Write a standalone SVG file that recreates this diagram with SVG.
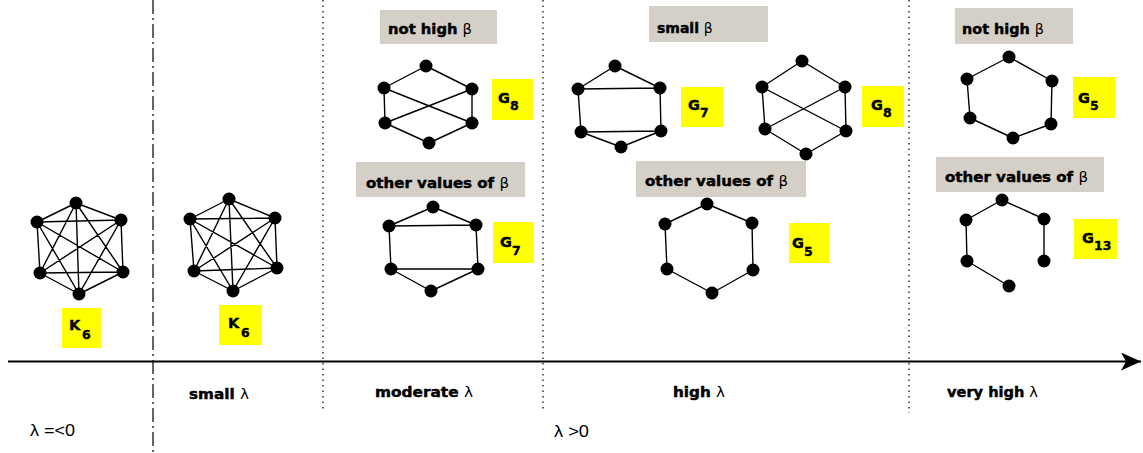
<svg xmlns="http://www.w3.org/2000/svg" width="1143" height="453" viewBox="0 0 1143 453">
<style>
.e{fill:none;stroke:#000;stroke-width:1.4;stroke-linecap:round}
.n{fill:#000}
.gb{fill:#d4d0c8}
.yb{fill:#ffff00}
.t{font-family:"DejaVu Sans",sans-serif;font-weight:bold;font-size:14px;fill:#000;stroke:#000;stroke-width:0.45}
.g{font-family:"DejaVu Sans",sans-serif;font-weight:normal;stroke:none}
.lb{font-family:"DejaVu Sans",sans-serif;font-weight:bold;font-size:14.5px;fill:#000;stroke:#000;stroke-width:0.4}
.sb{font-size:12.5px}
.r{font-family:"Liberation Sans",sans-serif;font-size:16.5px;fill:#000}
.sep{fill:none;stroke:#000;stroke-width:1.2}
</style>
<defs>
<marker id="arr" markerUnits="userSpaceOnUse" markerWidth="22" markerHeight="20" refX="20" refY="9" orient="auto">
<path d="M0,0 L20,9 L0,18 L5,9 Z" fill="#000"/>
</marker>
</defs>
<rect width="1143" height="453" fill="#fff"/>

<g id="axis">
<line x1="8" y1="361.5" x2="1141" y2="361.5" stroke="#000" stroke-width="2" marker-end="url(#arr)"/>
<line class="sep" x1="153" y1="0" x2="153" y2="453" stroke-dasharray="14 4 2 4"/>
<line class="sep" x1="323" y1="0" x2="323" y2="410" stroke-dasharray="1.5 4"/>
<line class="sep" x1="543" y1="0" x2="543" y2="410" stroke-dasharray="1.5 4"/>
<line class="sep" x1="909" y1="0" x2="909" y2="413" stroke-dasharray="1.5 4"/>
</g>

<g id="connectors">
<path class="e" d="M76,203L37,222M76,203L121,220M76,203L40,273M76,203L123,272M76,203L79,294M37,222L121,220M37,222L40,273M37,222L123,272M37,222L79,294M121,220L40,273M121,220L123,272M121,220L79,294M40,273L123,272M40,273L79,294M123,272L79,294"/>
<path class="e" d="M229,199L190,219M229,199L275,218M229,199L194,271M229,199L277,268M229,199L233,291M190,219L275,218M190,219L194,271M190,219L277,268M190,219L233,291M275,218L194,271M275,218L277,268M275,218L233,291M194,271L277,268M194,271L233,291M277,268L233,291"/>
<path class="e" d="M426,66L384,88M426,66L472,89M384,88L385,123M472,89L472,123M385,123L429,143M472,123L429,143M384,88L472,123M472,89L385,123"/>
<path class="e" d="M433,207L389,226M433,207L476,225M389,226L476,225M389,226L391,269M476,225L478,269M391,269L478,269M391,269L431,291M478,269L431,291"/>
<path class="e" d="M615,66L578,89M615,66L660,88M578,89L660,88M578,89L581,132M660,88L661,131M581,132L661,131M581,132L621,147M661,131L621,147"/>
<path class="e" d="M802,61L762,87M802,61L845,87M762,87L765,129M845,87L846,131M765,129L806,154M846,131L806,154M762,87L846,131M845,87L765,129"/>
<path class="e" d="M707,204L665,224M707,204L752,223M665,224L667,269M752,223L753,270M667,269L712,293M753,270L712,293"/>
<path class="e" d="M1009,57L967,79M1009,57L1052,81M967,79L970,118M1052,81L1051,124M970,118L1013,138M1051,124L1013,138"/>
<path class="e" d="M1002,200L966,220M1002,200L1044,219M966,220L967,261M1044,219L1044,261M967,261L1009,286"/>
</g>

<g id="k6-a">
<circle class="n" cx="76" cy="203" r="6.5"/><circle class="n" cx="37" cy="222" r="6.5"/><circle class="n" cx="121" cy="220" r="6.5"/><circle class="n" cx="40" cy="273" r="6.5"/><circle class="n" cx="123" cy="272" r="6.5"/><circle class="n" cx="79" cy="294" r="6.5"/>
</g>
<g id="k6-b">
<circle class="n" cx="229" cy="199" r="6.5"/><circle class="n" cx="190" cy="219" r="6.5"/><circle class="n" cx="275" cy="218" r="6.5"/><circle class="n" cx="194" cy="271" r="6.5"/><circle class="n" cx="277" cy="268" r="6.5"/><circle class="n" cx="233" cy="291" r="6.5"/>
</g>
<g id="g8-moderate">
<circle class="n" cx="426" cy="66" r="6.5"/><circle class="n" cx="384" cy="88" r="6.5"/><circle class="n" cx="472" cy="89" r="6.5"/><circle class="n" cx="385" cy="123" r="6.5"/><circle class="n" cx="472" cy="123" r="6.5"/><circle class="n" cx="429" cy="143" r="6.5"/>
</g>
<g id="g7-moderate">
<circle class="n" cx="433" cy="207" r="6.5"/><circle class="n" cx="389" cy="226" r="6.5"/><circle class="n" cx="476" cy="225" r="6.5"/><circle class="n" cx="391" cy="269" r="6.5"/><circle class="n" cx="478" cy="269" r="6.5"/><circle class="n" cx="431" cy="291" r="6.5"/>
</g>
<g id="g7-high">
<circle class="n" cx="615" cy="66" r="6.5"/><circle class="n" cx="578" cy="89" r="6.5"/><circle class="n" cx="660" cy="88" r="6.5"/><circle class="n" cx="581" cy="132" r="6.5"/><circle class="n" cx="661" cy="131" r="6.5"/><circle class="n" cx="621" cy="147" r="6.5"/>
</g>
<g id="g8-high">
<circle class="n" cx="802" cy="61" r="6.5"/><circle class="n" cx="762" cy="87" r="6.5"/><circle class="n" cx="845" cy="87" r="6.5"/><circle class="n" cx="765" cy="129" r="6.5"/><circle class="n" cx="846" cy="131" r="6.5"/><circle class="n" cx="806" cy="154" r="6.5"/>
</g>
<g id="g5-high">
<circle class="n" cx="707" cy="204" r="6.5"/><circle class="n" cx="665" cy="224" r="6.5"/><circle class="n" cx="752" cy="223" r="6.5"/><circle class="n" cx="667" cy="269" r="6.5"/><circle class="n" cx="753" cy="270" r="6.5"/><circle class="n" cx="712" cy="293" r="6.5"/>
</g>
<g id="g5-veryhigh">
<circle class="n" cx="1009" cy="57" r="6.5"/><circle class="n" cx="967" cy="79" r="6.5"/><circle class="n" cx="1052" cy="81" r="6.5"/><circle class="n" cx="970" cy="118" r="6.5"/><circle class="n" cx="1051" cy="124" r="6.5"/><circle class="n" cx="1013" cy="138" r="6.5"/>
</g>
<g id="g13-veryhigh">
<circle class="n" cx="1002" cy="200" r="6.5"/><circle class="n" cx="966" cy="220" r="6.5"/><circle class="n" cx="1044" cy="219" r="6.5"/><circle class="n" cx="967" cy="261" r="6.5"/><circle class="n" cx="1044" cy="261" r="6.5"/><circle class="n" cx="1009" cy="286" r="6.5"/>
</g>

<g id="beta-headers">
<g id="h-mod-nothigh"><rect class="gb" x="380" y="10" width="117" height="34"/><text class="t" x="388" y="34" textLength="84" lengthAdjust="spacingAndGlyphs">not high <tspan class="g">β</tspan></text></g>
<g id="h-mod-other"><rect class="gb" x="356" y="162" width="169" height="35"/><text class="t" x="366" y="188" textLength="143" lengthAdjust="spacingAndGlyphs">other values of <tspan class="g">β</tspan></text></g>
<g id="h-high-small"><rect class="gb" x="649" y="6" width="119" height="36"/><text class="t" x="657" y="33" font-size="13.5">small <tspan class="g">β</tspan></text></g>
<g id="h-high-other"><rect class="gb" x="636" y="161" width="170" height="36"/><text class="t" x="645" y="186" textLength="143" lengthAdjust="spacingAndGlyphs">other values of <tspan class="g">β</tspan></text></g>
<g id="h-vh-nothigh"><rect class="gb" x="955" y="8" width="118" height="36"/><text class="t" x="962" y="34" textLength="82" lengthAdjust="spacingAndGlyphs">not high <tspan class="g">β</tspan></text></g>
<g id="h-vh-other"><rect class="gb" x="936" y="157" width="168" height="35"/><text class="t" x="945" y="182" textLength="143" lengthAdjust="spacingAndGlyphs">other values of <tspan class="g">β</tspan></text></g>
</g>

<g id="graph-labels">
<g id="l-k6a"><rect class="yb" x="62" y="308" width="39" height="40"/><text class="lb" x="69" y="330" font-size="16">K</text><text class="lb sb" x="82" y="339">6</text></g>
<g id="l-k6b"><rect class="yb" x="219" y="305" width="43" height="40"/><text class="lb" x="228" y="328" font-size="16">K</text><text class="lb sb" x="241" y="337">6</text></g>
<g id="l-g8m"><rect class="yb" x="492" y="79" width="41" height="41"/><text class="lb" x="498" y="103">G</text><text class="lb sb" x="510" y="110">8</text></g>
<g id="l-g7m"><rect class="yb" x="493" y="222" width="41" height="41"/><text class="lb" x="500" y="247">G</text><text class="lb sb" x="512" y="255">7</text></g>
<g id="l-g7h"><rect class="yb" x="681" y="87" width="42" height="40"/><text class="lb" x="688" y="110">G</text><text class="lb sb" x="700" y="117">7</text></g>
<g id="l-g8h"><rect class="yb" x="862" y="86" width="42" height="41"/><text class="lb" x="871" y="110">G</text><text class="lb sb" x="883" y="117">8</text></g>
<g id="l-g5h"><rect class="yb" x="789" y="223" width="40" height="40"/><text class="lb" x="792" y="248">G</text><text class="lb sb" x="804" y="256">5</text></g>
<g id="l-g5vh"><rect class="yb" x="1073" y="77" width="42" height="41"/><text class="lb" x="1078" y="103">G</text><text class="lb sb" x="1090" y="110">5</text></g>
<g id="l-g13"><rect class="yb" x="1074" y="219" width="43" height="40"/><text class="lb" x="1082" y="243">G</text><text class="lb sb" x="1094" y="250">13</text></g>
</g>

<g id="lambda-labels">
<text class="t" x="189" y="399" textLength="60" lengthAdjust="spacingAndGlyphs">small <tspan class="g">λ</tspan></text>
<text class="t" x="375" y="397" textLength="98" lengthAdjust="spacingAndGlyphs">moderate <tspan class="g">λ</tspan></text>
<text class="t" x="673" y="397" textLength="52" lengthAdjust="spacingAndGlyphs">high <tspan class="g">λ</tspan></text>
<text class="t" x="947" y="397" textLength="91" lengthAdjust="spacingAndGlyphs">very high <tspan class="g">λ</tspan></text>
<text class="r" x="30" y="436" textLength="45" lengthAdjust="spacingAndGlyphs">λ =&lt;0</text>
<text class="r" x="554" y="437" textLength="35" lengthAdjust="spacingAndGlyphs">λ &gt;0</text>
</g>
</svg>
